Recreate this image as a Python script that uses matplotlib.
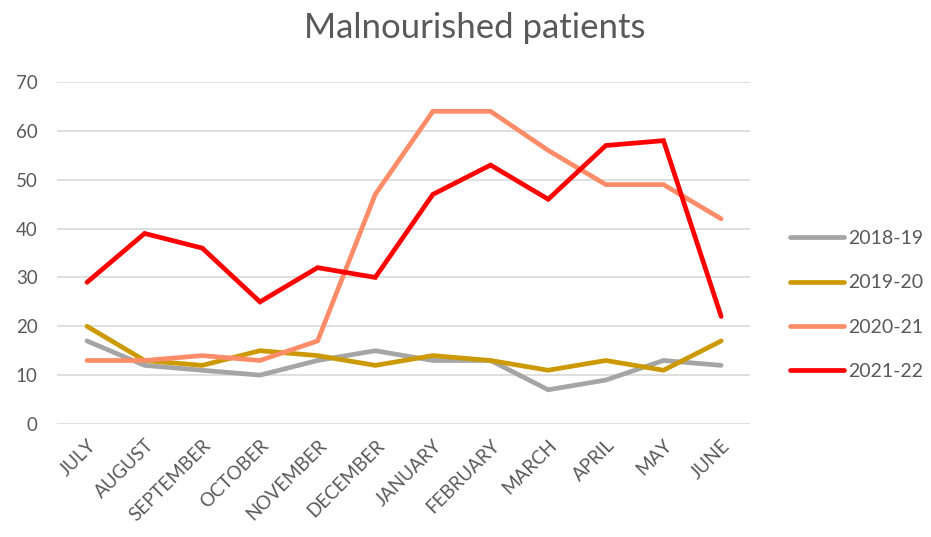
import matplotlib
matplotlib.use("Agg")
import matplotlib.pyplot as plt

months = ["JULY", "AUGUST", "SEPTEMBER", "OCTOBER", "NOVEMBER", "DECEMBER",
          "JANUARY", "FEBRUARY", "MARCH", "APRIL", "MAY", "JUNE"]
s2018_19 = [17, 12, 11, 10, 13, 15, 13, 13, 7, 9, 13, 12]
s2019_20 = [20, 13, 12, 15, 14, 12, 14, 13, 11, 13, 11, 17]
s2020_21 = [13, 13, 14, 13, 17, 47, 64, 64, 56, 49, 49, 42]
s2021_22 = [29, 39, 36, 25, 32, 30, 47, 53, 46, 57, 58, 22]
series_names = ["2018-19", "2019-20", "2020-21", "2021-22"]
colors = ["#A5A5A5", "#CC9A00", "#FF8C69", "#FF0000"]

plt.rcParams['font.family'] = ['Lato', 'DejaVu Sans']
fig = plt.figure(figsize=(9.31, 5.37), dpi=100)
ax = fig.add_axes([57/931, 1-424/537, (750-57)/931, (424-82)/537])

x = list(range(len(months)))
handles = []
for name, vals, c in zip(series_names, [s2018_19, s2019_20, s2020_21, s2021_22], colors):
    h, = ax.plot(x, vals, color=c, lw=3.4, solid_capstyle='round', solid_joinstyle='miter', label=name)
    handles.append(h)

ax.set_xlim(-0.52, 11.5)
ax.set_ylim(0, 70)
ax.set_yticks(range(0, 71, 10))
ax.yaxis.grid(True, color="#D9D9D9", lw=1.2)
ax.set_axisbelow(True)
for s in ax.spines.values():
    s.set_visible(False)
ax.tick_params(axis='both', length=0, colors="#595959", labelsize=13.5)
ax.tick_params(axis='y', pad=14)
ax.set_xticks(x)
ax.set_xticklabels(months, rotation=45, ha='right', rotation_mode='anchor')
ax.tick_params(axis='x', pad=9)

fig.text(475/931, 1-28/537, "Malnourished patients", ha='center', va='center',
         fontsize=25, color="#595959")

leg = fig.legend(handles=handles, loc='center left', bbox_to_anchor=(782/931, 1-305/537),
                 frameon=False, fontsize=14, labelspacing=1.4, handlelength=2.8,
                 handletextpad=0.2, borderaxespad=0)
for t in leg.get_texts():
    t.set_color("#595959")

fig.savefig("out.png", dpi=100)
